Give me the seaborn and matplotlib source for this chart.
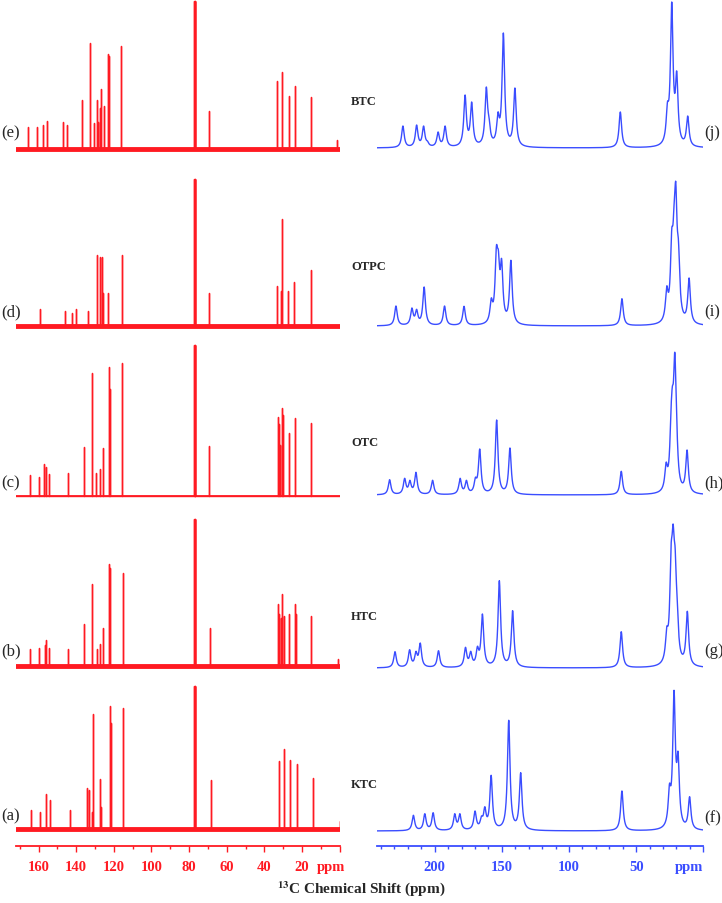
import numpy as np
import pandas as pd
import matplotlib
matplotlib.use("Agg")
import matplotlib.pyplot as plt
import seaborn as sns
from matplotlib.ticker import MultipleLocator, FixedLocator, FixedFormatter

sns.set_theme(style="white")
plt.rcParams['font.family'] = ['Liberation Serif', 'DejaVu Serif']
plt.rcParams['mathtext.fontset'] = 'stix'

RED = '#ff1a22'
BLUE = '#3a4dff'

compounds = ['KTC', 'HTC', 'OTC', 'OTPC', 'BTC']
left_tags = ['(a)', '(b)', '(c)', '(d)', '(e)']
right_tags = ['(f)', '(g)', '(h)', '(i)', '(j)']

# solution spectra (left, red sticks): shift in ppm and peak height
ktc_sol_ppm = [164.2, 159.0, 156.3, 154.1, 143.5, 134.5, 133.2, 131.5, 131.0, 127.6, 126.9,
               122.0, 121.5, 114.9, 77.3, 77.0, 76.7, 68.2, 32.0, 29.7, 26.1, 22.9, 14.0, 0.0]
ktc_sol_h = [19, 17, 35, 29, 19, 41, 39, 17, 115, 50, 22,
             123, 106, 121, 143, 143, 143, 49, 68, 80, 69, 65, 51, 8]

htc_sol_ppm = [164.4, 159.6, 156.8, 156.1, 154.5, 144.1, 135.6, 131.6, 129.2, 127.2, 125.8,
               122.5, 121.9, 115.2, 77.3, 77.0, 76.7, 69.0, 32.9, 32.3, 31.3, 30.4, 29.5,
               27.0, 23.8, 23.2, 15.0, 1.0]
htc_sol_h = [17, 18, 21, 26, 18, 17, 42, 82, 17, 22, 38,
             102, 98, 93, 147, 147, 147, 38, 62, 52, 48, 72, 50,
             52, 62, 52, 50, 7]

otc_sol_ppm = [164.6, 159.8, 157.0, 156.3, 154.7, 144.2, 135.6, 131.8, 129.4, 127.4, 125.8,
               122.6, 122.1, 115.4, 77.3, 77.0, 76.7, 69.2, 32.9, 32.3, 31.5, 30.6, 29.9,
               27.0, 23.7, 15.2]
otc_sol_h = [21, 19, 32, 29, 22, 23, 49, 123, 23, 27, 48,
             129, 107, 133, 151, 151, 151, 50, 79, 72, 51, 88, 81,
             63, 78, 73]

otpc_sol_ppm = [159.1, 146.2, 142.0, 139.9, 133.6, 128.7, 127.6, 126.5, 125.6, 123.0, 115.6,
                77.3, 77.0, 76.7, 69.4, 33.1, 31.3, 30.6, 27.4, 24.1, 15.3]
otpc_sol_h = [17, 15, 13, 17, 15, 71, 69, 69, 33, 33, 71,
              147, 147, 147, 33, 40, 35, 107, 35, 44, 56]

btc_sol_ppm = [165.6, 160.6, 157.9, 155.4, 147.0, 144.9, 137.1, 132.6, 130.5, 129.2, 128.2,
               127.5, 126.7, 125.1, 123.1, 122.5, 116.0, 77.3, 77.0, 76.7, 69.4, 33.1, 30.6,
               27.0, 23.8, 15.3, 1.4]
btc_sol_h = [22, 22, 24, 28, 27, 24, 49, 106, 26, 49, 27,
             41, 60, 43, 95, 93, 103, 148, 148, 148, 38, 68, 77,
             53, 63, 52, 9]

# calculated spectra (right, blue lines): shift in ppm and peak height
ktc_calc_ppm = [215.9, 207.4, 201.2, 185.1, 181.3, 170.0, 165.2, 162.7, 158.0, 144.9, 136.0,
                60.6, 25.2, 21.8, 18.8, 10.2]
ktc_calc_h = [15.7, 17.3, 18.3, 17.3, 17.3, 20, 15, 24.3, 55.7, 110.7, 58.3,
              40, 47.3, 140.7, 79.3, 34.3]

htc_calc_ppm = [229.6, 218.7, 214.0, 210.8, 197.2, 177.1, 173.2, 168.2, 164.5, 151.9, 142.0,
                61.1, 27.2, 24.0, 22.5, 21.0, 19.5, 11.9]
htc_calc_h = [16.3, 18.3, 16.7, 25, 17.3, 20.7, 16.7, 21.7, 54, 87.3, 57.3,
              36.3, 41.3, 123, 144, 120.7, 70.7, 56.7]

otc_calc_ppm = [233.6, 222.4, 218.5, 214.0, 201.6, 181.1, 176.4, 169.7, 166.5, 153.9, 144.0,
                61.1, 27.7, 24.0, 23.0, 21.2, 19.8, 12.1]
otc_calc_h = [15.3, 16.7, 14.7, 22.7, 14.7, 16.7, 14.7, 17.7, 46, 75, 47,
              23.7, 32.7, 87.7, 109, 142.7, 76, 45]

otpc_calc_ppm = [228.9, 217.0, 213.5, 207.9, 192.7, 178.2, 157.9, 154.1, 152.6, 150.2, 143.3,
                 60.6, 27.2, 23.5, 21.8, 20.5, 18.5, 10.6]
otpc_calc_h = [20, 18, 16.7, 39, 20, 19.7, 28, 80, 75.7, 67.3, 65.7,
               27.3, 40, 97, 120.7, 144, 85.7, 48]

btc_calc_ppm = [223.7, 213.5, 208.3, 205.4, 197.5, 192.3, 177.4, 172.5, 161.6, 159.6, 152.9,
                148.9, 140.3, 61.8, 26.7, 23.5, 19.8, 11.6]
btc_calc_h = [22, 23, 22, 7, 16, 22, 53, 46, 61, 31, 36,
              115, 60, 36, 46, 146, 77, 32]

sol_ppm = [ktc_sol_ppm, htc_sol_ppm, otc_sol_ppm, otpc_sol_ppm, btc_sol_ppm]
sol_h = [ktc_sol_h, htc_sol_h, otc_sol_h, otpc_sol_h, btc_sol_h]
calc_ppm = [ktc_calc_ppm, htc_calc_ppm, otc_calc_ppm, otpc_calc_ppm, btc_calc_ppm]
calc_h = [ktc_calc_h, htc_calc_h, otc_calc_h, otpc_calc_h, btc_calc_h]

left_ticks = [160, 140, 120, 100, 80, 60, 40, 20]
right_ticks = [200, 150, 100, 50]

# layout (pixel units above the axis line)
left_offsets = [17, 180, 350, 520, 697]
right_offsets = [15, 178, 351, 520, 698]
noisy = [True, True, False, True, True]
fwhm = 2.3


def lorentz(x, x0, w):
    return 1.0 / (1.0 + ((x - x0) / (w / 2.0)) ** 2)


def blue_trace(ppm, h, grid):
    p = np.array(ppm, float)
    h = np.array(h, float)
    M = lorentz(p[:, None], p[None, :], fwhm)
    a = h.copy()
    for _ in range(400):
        a = np.clip(a + 0.5 * (h - M @ a), 0, None)
    return (a[None, :] * lorentz(grid[:, None], p[None, :], fwhm)).sum(axis=1)


fig = plt.figure(figsize=(7.22, 9.04), dpi=100)
H = 847.0
axL = fig.add_axes([16 / 722, 1 - 847 / 904, (339.6 - 16) / 722, 847 / 904])
axR = fig.add_axes([377 / 722, 1 - 847 / 904, (703.3 - 377) / 722, 847 / 904])

# red stick spectra
for i in range(5):
    base = left_offsets[i]
    order = np.argsort(sol_ppm[i])[::-1]
    xs, ys = [173.0], [base]
    for k in order:
        p = sol_ppm[i][k]
        xs += [p, p, p]
        ys += [base, base + sol_h[i][k], base]
    xs.append(-0.3)
    ys.append(base)
    df = pd.DataFrame({'ppm': xs, 'y': ys})
    sns.lineplot(data=df, x='ppm', y='y', ax=axL, color=RED, lw=1.0,
                 estimator=None, sort=False)
    bdf = pd.DataFrame({'ppm': [173.0, -0.3], 'y': [base, base]})
    sns.lineplot(data=bdf, x='ppm', y='y', ax=axL, color=RED,
                 lw=3.5 if noisy[i] else 1.3, estimator=None, sort=False)

# blue calculated spectra
grid = np.linspace(243, 0, 2431)
for i in range(5):
    spec = blue_trace(calc_ppm[i], calc_h[i], grid) + right_offsets[i]
    df = pd.DataFrame({'ppm': grid, 'y': spec})
    sns.lineplot(data=df, x='ppm', y='y', ax=axR, color=BLUE, lw=1.0,
                 estimator=None, sort=False)

for ax, col, lim, major in [(axL, RED, (172, 0), left_ticks + [0]),
                            (axR, BLUE, (243, 0), right_ticks + [0])]:
    ax.set_xlim(*lim)
    ax.set_ylim(0, H)
    ax.set_xlabel('')
    ax.set_ylabel('')
    ax.set_yticks([])
    for s in ['left', 'top', 'right']:
        ax.spines[s].set_visible(False)
    ax.spines['bottom'].set_color(col)
    ax.spines['bottom'].set_linewidth(1.3)
    ax.xaxis.set_major_locator(FixedLocator(major))
    ax.xaxis.set_major_formatter(FixedFormatter([str(t) for t in major[:-1]] + ['']))
    ax.xaxis.set_minor_locator(MultipleLocator(10))
    ax.tick_params(axis='x', which='major', direction='out', length=4, width=1,
                   colors=col, pad=6, labelsize=10.5, bottom=True)
    ax.tick_params(axis='x', which='minor', direction='out', length=2.5, width=1,
                   colors=col, bottom=True)
    for lab in ax.get_xticklabels():
        lab.set_fontweight('bold')
    ax.set_facecolor('none')
    ax.grid(False)

fig.text(345 / 722, 1 - 868 / 904, 'ppm', color=RED, fontsize=10.5, fontweight='bold',
         ha='right', va='center')
fig.text(703 / 722, 1 - 868 / 904, 'ppm', color=BLUE, fontsize=10.5, fontweight='bold',
         ha='right', va='center')

tag_y = [816, 651, 483, 312, 133]
rtag_y = [818, 651, 483, 312, 133]
name_y = [785, 617, 443, 267, 102]
for i in range(5):
    fig.text(1 / 722, 1 - tag_y[i] / 904, left_tags[i], fontsize=12, ha='left', va='center')
    fig.text(704 / 722, 1 - rtag_y[i] / 904, right_tags[i], fontsize=12, ha='left', va='center')
    fig.text(351 / 722, 1 - name_y[i] / 904, compounds[i], fontsize=9, fontweight='bold',
             ha='left', va='center')

fig.text(0.5, 1 - 889 / 904, r'$^{\mathbf{13}}$C Chemical Shift (ppm)', fontsize=11,
         fontweight='bold', ha='center', va='center')

fig.savefig('out.png', dpi=100)
